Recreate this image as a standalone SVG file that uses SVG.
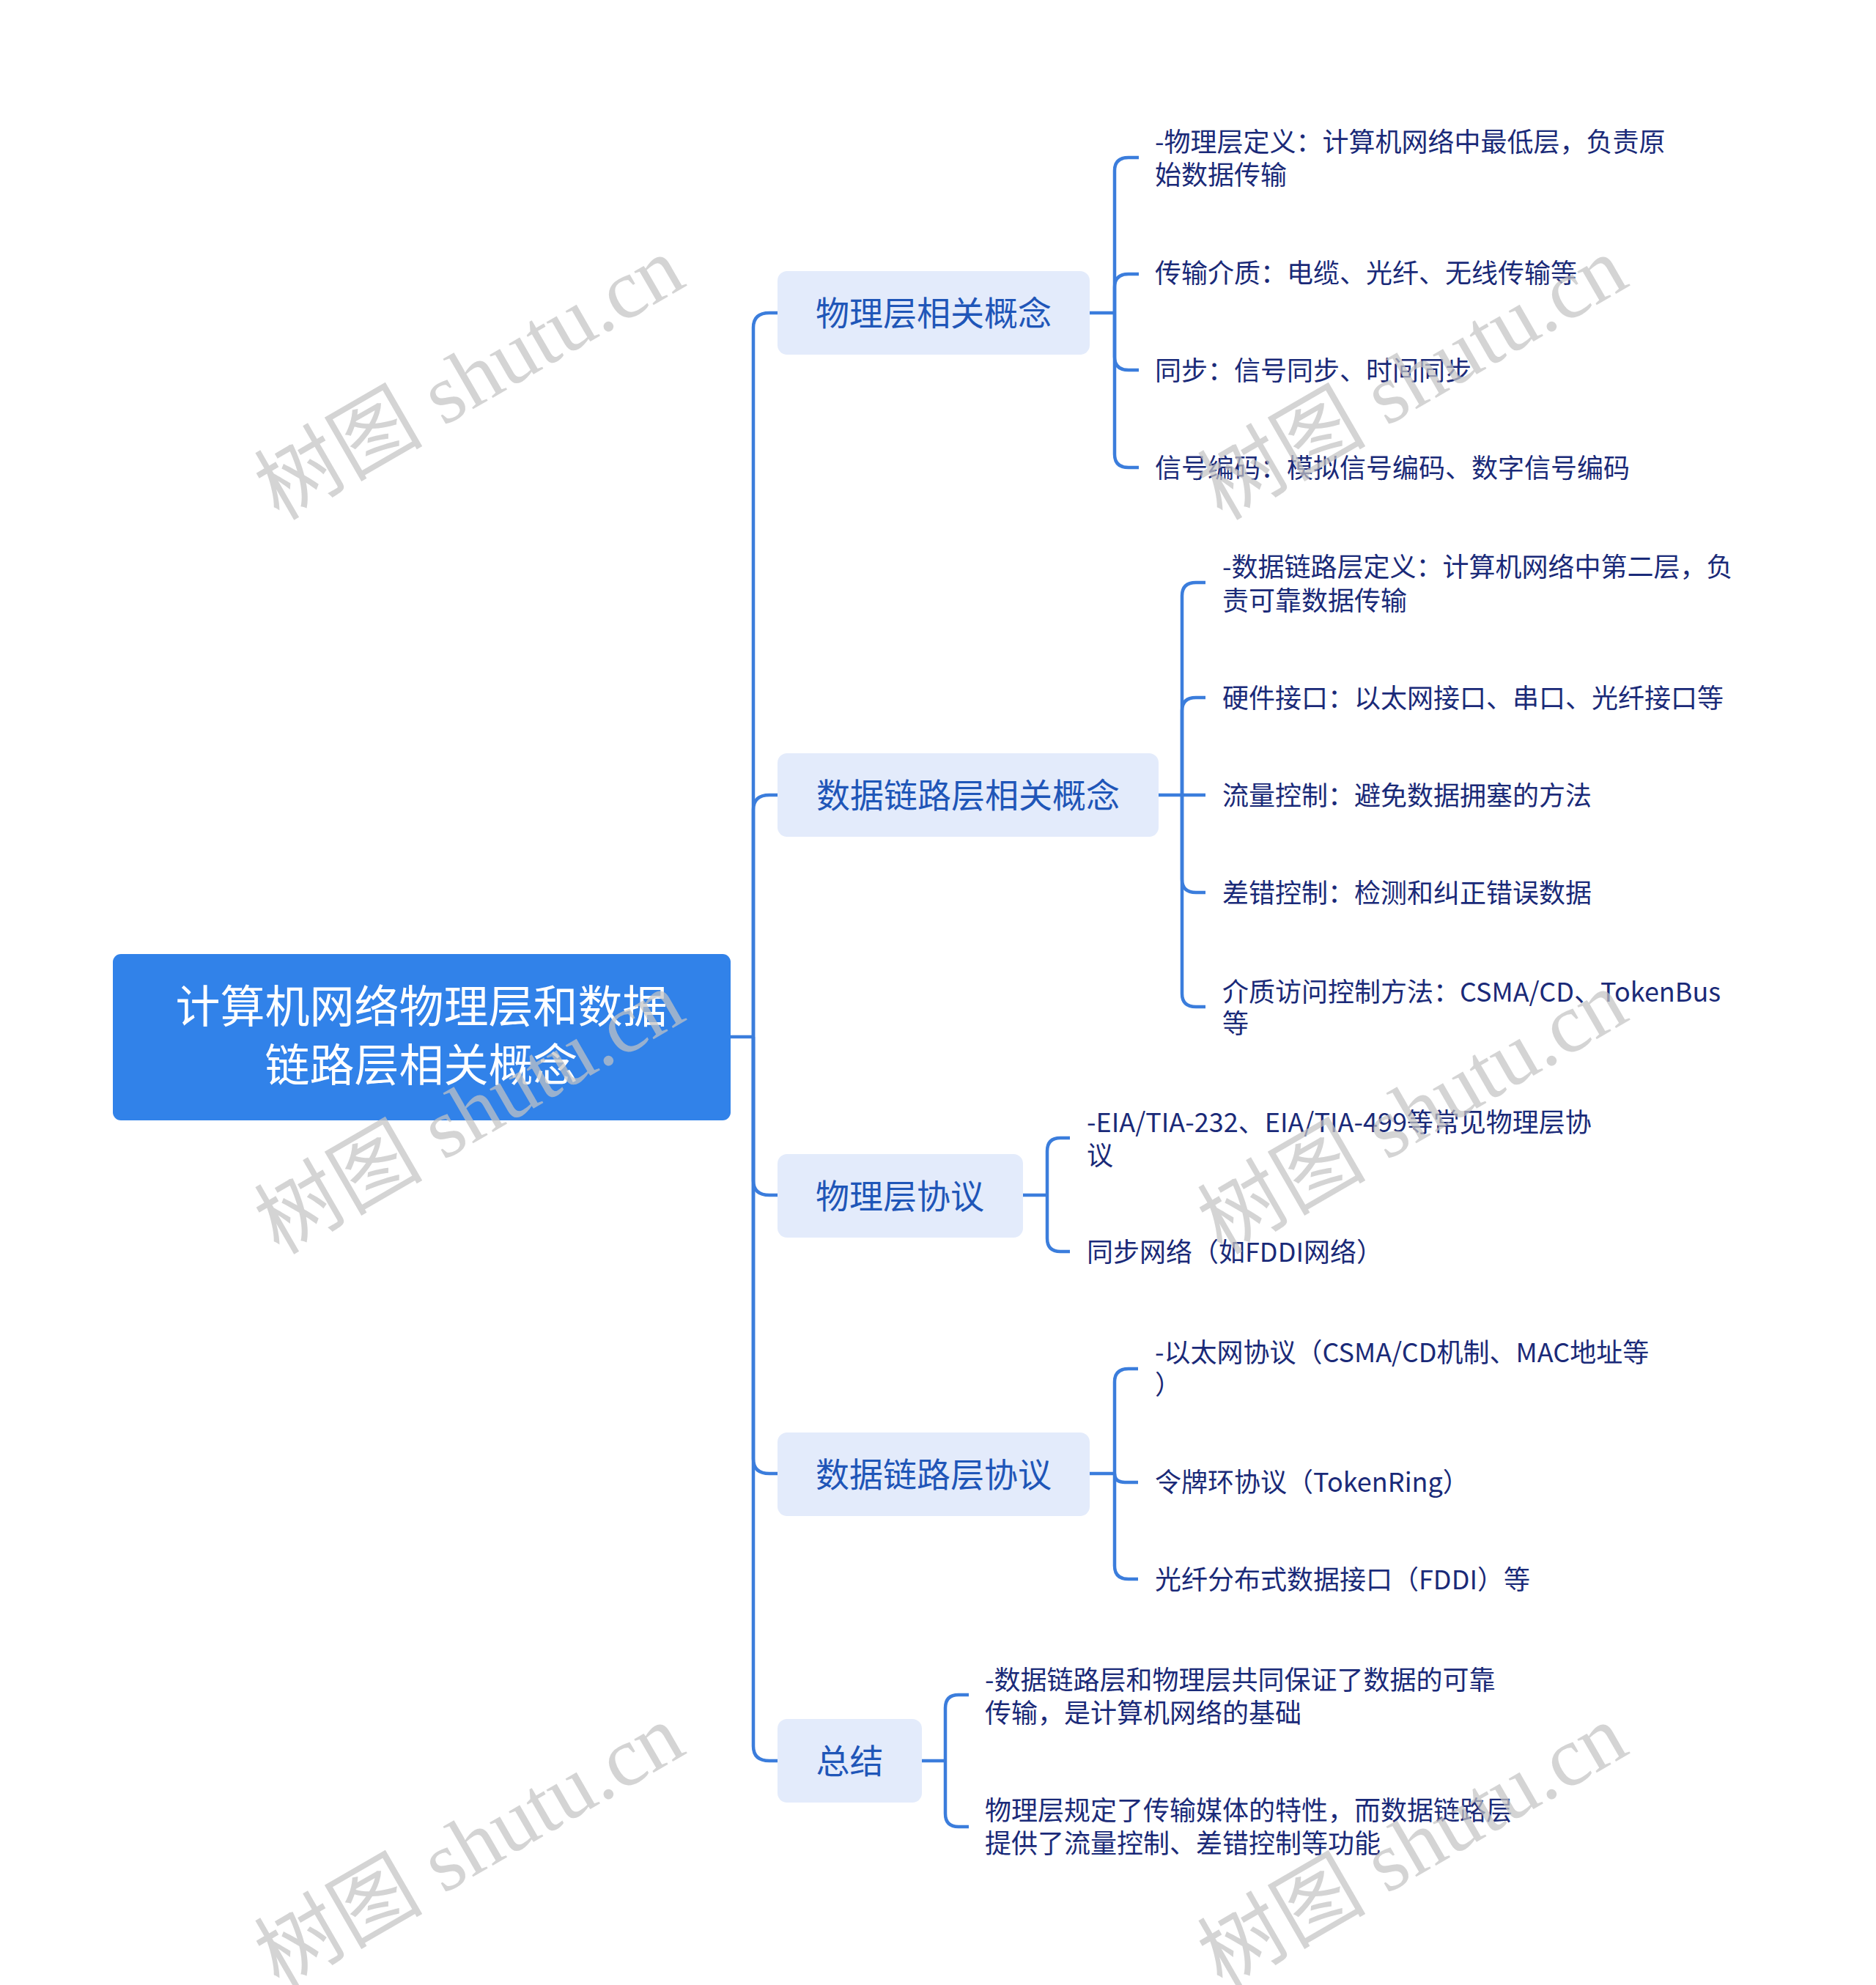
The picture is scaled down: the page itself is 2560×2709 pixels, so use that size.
<svg xmlns="http://www.w3.org/2000/svg" width="2560" height="2709" viewBox="0 0 2560 2709">
<style>
.bg{fill:#ffffff}
.root{fill:#3182e9}
.rootT{fill:#ffffff;font-family:"Noto Sans CJK SC","Noto Sans",sans-serif;font-size:61px;text-anchor:middle}
.l1{fill:#e3ebfb}
.l1T{fill:#1f56b8;font-family:"Noto Sans CJK SC","Noto Sans",sans-serif;font-size:46px;text-anchor:middle}
.l2T{fill:#1a2a78;font-family:"Noto Sans CJK SC","Noto Sans",sans-serif;font-size:36px}
.ln{fill:none;stroke:#3b7ddc;stroke-width:4.5;stroke-linecap:butt;stroke-linejoin:round}
.wm{fill:#c4c4c4;fill-opacity:0.72;font-family:"Liberation Serif","Noto Sans CJK SC",serif;font-size:115px;text-anchor:middle}
</style>
<rect class="bg" x="0" y="0" width="2560" height="2709"/>

<g id="connectors">
<path class="ln" d="M997,1415 H1028"/>
<path class="ln" d="M1028,1415 V447 Q1028,427 1050,427 H1061"/>
<path class="ln" d="M1028,1415 V1105 Q1028,1085 1050,1085 H1061"/>
<path class="ln" d="M1028,1415 V1611 Q1028,1631 1050,1631 H1061"/>
<path class="ln" d="M1028,1415 V1991 Q1028,2011 1050,2011 H1061"/>
<path class="ln" d="M1028,1415 V2383 Q1028,2403 1050,2403 H1061"/>

<path class="ln" d="M1487,427 H1521"/>
<path class="ln" d="M1521,427 V233 Q1521,215 1540,215 H1554"/>
<path class="ln" d="M1521,427 V392 Q1521,374 1540,374 H1554"/>
<path class="ln" d="M1521,427 V487 Q1521,505 1540,505 H1554"/>
<path class="ln" d="M1521,427 V620 Q1521,638 1540,638 H1554"/>

<path class="ln" d="M1581,1085 H1645"/>
<path class="ln" d="M1613,1085 V813 Q1613,795 1632,795 H1645"/>
<path class="ln" d="M1613,1085 V970 Q1613,952 1632,952 H1645"/>
<path class="ln" d="M1613,1085 V1200 Q1613,1218 1632,1218 H1645"/>
<path class="ln" d="M1613,1085 V1356 Q1613,1374 1632,1374 H1645"/>

<path class="ln" d="M1396,1631 H1429"/>
<path class="ln" d="M1429,1631 V1571 Q1429,1553 1447,1553 H1460"/>
<path class="ln" d="M1429,1631 V1690 Q1429,1708 1447,1708 H1460"/>

<path class="ln" d="M1487,2011 H1521"/>
<path class="ln" d="M1521,2011 V1886 Q1521,1868 1540,1868 H1553"/>
<path class="ln" d="M1521,2011 Q1521,2023 1535,2023 H1553"/>
<path class="ln" d="M1521,2011 V2137 Q1521,2155 1540,2155 H1553"/>

<path class="ln" d="M1258,2403 H1290"/>
<path class="ln" d="M1290,2403 V2331 Q1290,2313 1308,2313 H1322"/>
<path class="ln" d="M1290,2403 V2475 Q1290,2493 1308,2493 H1322"/>
</g>

<g id="root">
<rect class="root" x="154" y="1302" width="843" height="227" rx="11"/>
<text class="rootT" x="575" y="1396">计算机网络物理层和数据</text>
<text class="rootT" x="575" y="1476">链路层相关概念</text>
</g>

<g id="n1">
<rect class="l1" x="1061" y="370" width="426" height="114" rx="13"/>
<text class="l1T" x="1274" y="444">物理层相关概念</text>
</g>
<g id="n1a"><text class="l2T" x="1576" y="207">-物理层定义：计算机网络中最低层，负责原</text><text class="l2T" x="1576" y="252">始数据传输</text></g>
<g id="n1b"><text class="l2T" x="1576" y="386">传输介质：电缆、光纤、无线传输等</text></g>
<g id="n1c"><text class="l2T" x="1576" y="519">同步：信号同步、时间同步</text></g>
<g id="n1d"><text class="l2T" x="1576" y="652">信号编码：模拟信号编码、数字信号编码</text></g>

<g id="n2">
<rect class="l1" x="1061" y="1028" width="520" height="114" rx="13"/>
<text class="l1T" x="1321" y="1102">数据链路层相关概念</text>
</g>
<g id="n2a"><text class="l2T" x="1668" y="787">-数据链路层定义：计算机网络中第二层，负</text><text class="l2T" x="1668" y="833">责可靠数据传输</text></g>
<g id="n2b"><text class="l2T" x="1668" y="966">硬件接口：以太网接口、串口、光纤接口等</text></g>
<g id="n2c"><text class="l2T" x="1668" y="1099">流量控制：避免数据拥塞的方法</text></g>
<g id="n2d"><text class="l2T" x="1668" y="1232">差错控制：检测和纠正错误数据</text></g>
<g id="n2e"><text class="l2T" x="1668" y="1367">介质访问控制方法：CSMA/CD、TokenBus</text><text class="l2T" x="1668" y="1410">等</text></g>

<g id="n3">
<rect class="l1" x="1061" y="1575" width="335" height="114" rx="13"/>
<text class="l1T" x="1228" y="1649">物理层协议</text>
</g>
<g id="n3a"><text class="l2T" x="1483" y="1545">-EIA/TIA-232、EIA/TIA-499等常见物理层协</text><text class="l2T" x="1483" y="1590">议</text></g>
<g id="n3b"><text class="l2T" x="1483" y="1722">同步网络（如FDDI网络）</text></g>

<g id="n4">
<rect class="l1" x="1061" y="1955" width="426" height="114" rx="13"/>
<text class="l1T" x="1274" y="2029">数据链路层协议</text>
</g>
<g id="n4a"><text class="l2T" x="1576" y="1859">-以太网协议（CSMA/CD机制、MAC地址等</text><text class="l2T" x="1576" y="1903">）</text></g>
<g id="n4b"><text class="l2T" x="1576" y="2036">令牌环协议（TokenRing）</text></g>
<g id="n4c"><text class="l2T" x="1576" y="2169">光纤分布式数据接口（FDDI）等</text></g>

<g id="n5">
<rect class="l1" x="1061" y="2346" width="197" height="114" rx="13"/>
<text class="l1T" x="1159.5" y="2420">总结</text>
</g>
<g id="n5a"><text class="l2T" x="1344" y="2306">-数据链路层和物理层共同保证了数据的可靠</text><text class="l2T" x="1344" y="2351">传输，是计算机网络的基础</text></g>
<g id="n5b"><text class="l2T" x="1344" y="2484">物理层规定了传输媒体的特性，而数据链路层</text><text class="l2T" x="1344" y="2529">提供了流量控制、差错控制等功能</text></g>

<g id="watermarks">
<text class="wm" x="660" y="550" transform="rotate(-30 660 550)">树图 shutu.cn</text>
<text class="wm" x="1947" y="550" transform="rotate(-30 1947 550)">树图 shutu.cn</text>
<text class="wm" x="660" y="1552" transform="rotate(-30 660 1552)">树图 shutu.cn</text>
<text class="wm" x="1947" y="1552" transform="rotate(-30 1947 1552)">树图 shutu.cn</text>
<text class="wm" x="660" y="2553" transform="rotate(-30 660 2553)">树图 shutu.cn</text>
<text class="wm" x="1947" y="2553" transform="rotate(-30 1947 2553)">树图 shutu.cn</text>
</g>
</svg>
